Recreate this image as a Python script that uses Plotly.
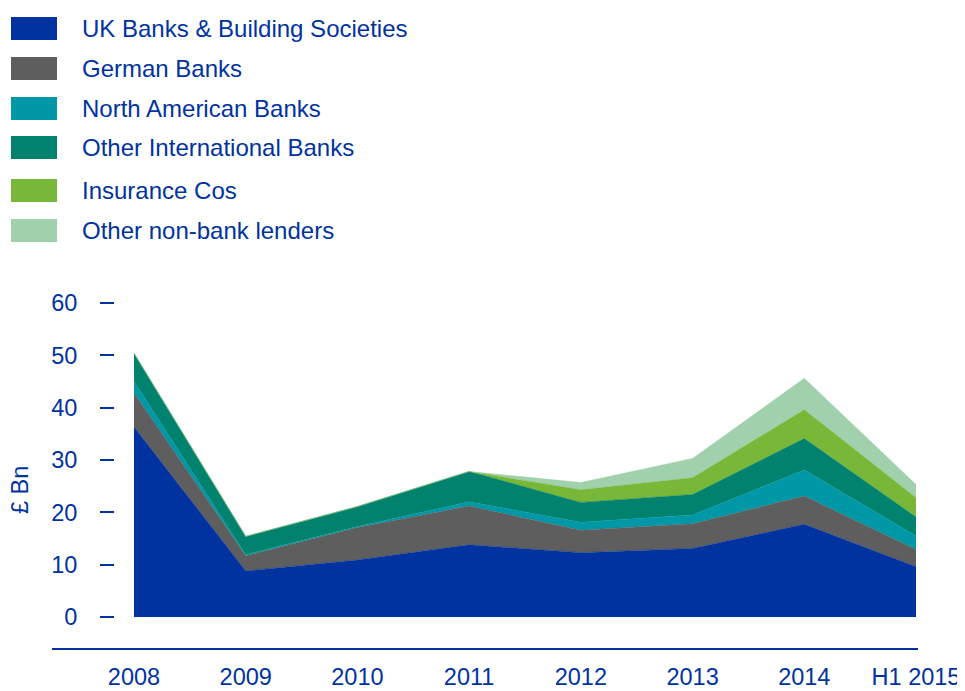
import plotly.graph_objects as go

# ---- data ----
categories = ["2008", "2009", "2010", "2011", "2012", "2013", "2014", "H1 2015"]
series_names = [
    "UK Banks & Building Societies",
    "German Banks",
    "North American Banks",
    "Other International Banks",
    "Insurance Cos",
    "Other non-bank lenders",
]
uk_banks = [36.3, 8.8, 10.9, 13.8, 12.3, 13.1, 17.7, 9.6]
german_banks = [6.5, 2.9, 6.2, 7.4, 4.3, 4.7, 5.4, 3.3]
north_american = [2.2, 0.2, 0.2, 0.8, 1.5, 1.7, 5.0, 2.6]
other_international = [5.4, 3.5, 3.8, 5.8, 3.8, 3.9, 6.0, 3.6]
insurance_cos = [0, 0, 0, 0, 2.4, 3.2, 5.5, 3.7]
other_non_bank = [0, 0, 0, 0, 1.4, 3.7, 6.0, 2.5]
y_ticks = [0, 10, 20, 30, 40, 50, 60]

colors = ["#0033a0", "#5e5e5e", "#0098a6", "#00826e", "#78b737", "#a1d0ad"]
text_color = "#0033a0"
font_family = "Liberation Sans, Arial, sans-serif"

series_values = [uk_banks, german_banks, north_american,
                 other_international, insurance_cos, other_non_bank]

# page body has an 8px offset; figure sized to fit the 965x691 viewport
OFF = 8
W, H = 965 - OFF, 691 - OFF
L, R, T, B = 52 - OFF, 47, 290 - OFF, 43
plot_w = W - L - R
plot_h = H - T - B


def px_x(px):
    """reference screen x -> paper x"""
    return (px - OFF - L) / plot_w


def px_y(py):
    """reference screen y -> paper y"""
    return (H - B - (py - OFF)) / plot_h


fig = go.Figure()
for name, vals, col in zip(series_names, series_values, colors):
    fig.add_trace(go.Scatter(
        x=categories, y=vals, name=name, mode="lines",
        stackgroup="one", line=dict(width=0.5, color=col),
        fillcolor=col, showlegend=False, hoverinfo="x+y+name",
    ))

# x range so first category sits at screen px 134 and last at px 916
unit = (916 - 134) / 7
x0 = -(134 - (L + OFF)) / unit
x1 = 7 + (L + OFF + plot_w - 916) / unit
# y range so 0 sits at screen px 617, 60 at 303
yunit = (617 - 303) / 60
y0 = -((H - B + OFF) - 617) / yunit
y1 = y0 + plot_h / yunit

fig.update_layout(
    width=W, height=H,
    margin=dict(l=L, r=R, t=T, b=B, autoexpand=False),
    paper_bgcolor="white", plot_bgcolor="white",
    font=dict(family=font_family, size=23.5, color=text_color),
    xaxis=dict(
        type="category", range=[x0, x1], showgrid=False, zeroline=False,
        showline=True, linecolor=text_color, linewidth=2, ticks="",
        tickfont=dict(size=23.5, color=text_color), ticklabelstandoff=7,
        automargin=False,
    ),
    yaxis=dict(
        range=[y0, y1], anchor="free", position=px_x(114),
        showgrid=False, zeroline=False, showline=False,
        ticks="outside", ticklen=14, tickwidth=1.5, tickcolor=text_color,
        tickvals=y_ticks, ticktext=[str(v) for v in y_ticks],
        tickfont=dict(size=23.5, color=text_color), ticklabelstandoff=18,
        automargin=False,
    ),
)

# custom legend
row_centers = [28.5, 68.5, 108.5, 147.5, 190.5, 230.5]
shapes = []
annotations = []
for name, col, cy in zip(series_names, colors, row_centers):
    shapes.append(dict(
        type="rect", xref="paper", yref="paper",
        x0=px_x(11), x1=px_x(57), y0=px_y(cy + 11.5), y1=px_y(cy - 11.5),
        fillcolor=col, line=dict(width=0),
    ))
    annotations.append(dict(
        xref="paper", yref="paper", x=px_x(80), y=px_y(cy),
        xanchor="left", yanchor="middle", text=name, showarrow=False,
        font=dict(size=24, color=text_color, family=font_family),
    ))

annotations.append(dict(
    xref="paper", yref="paper", x=px_x(20), y=px_y(490),
    xanchor="center", yanchor="middle", text="£ Bn", textangle=-90,
    showarrow=False, font=dict(size=23.5, color=text_color, family=font_family),
))

fig.update_layout(shapes=shapes, annotations=annotations)

fig.write_html("out.html")
